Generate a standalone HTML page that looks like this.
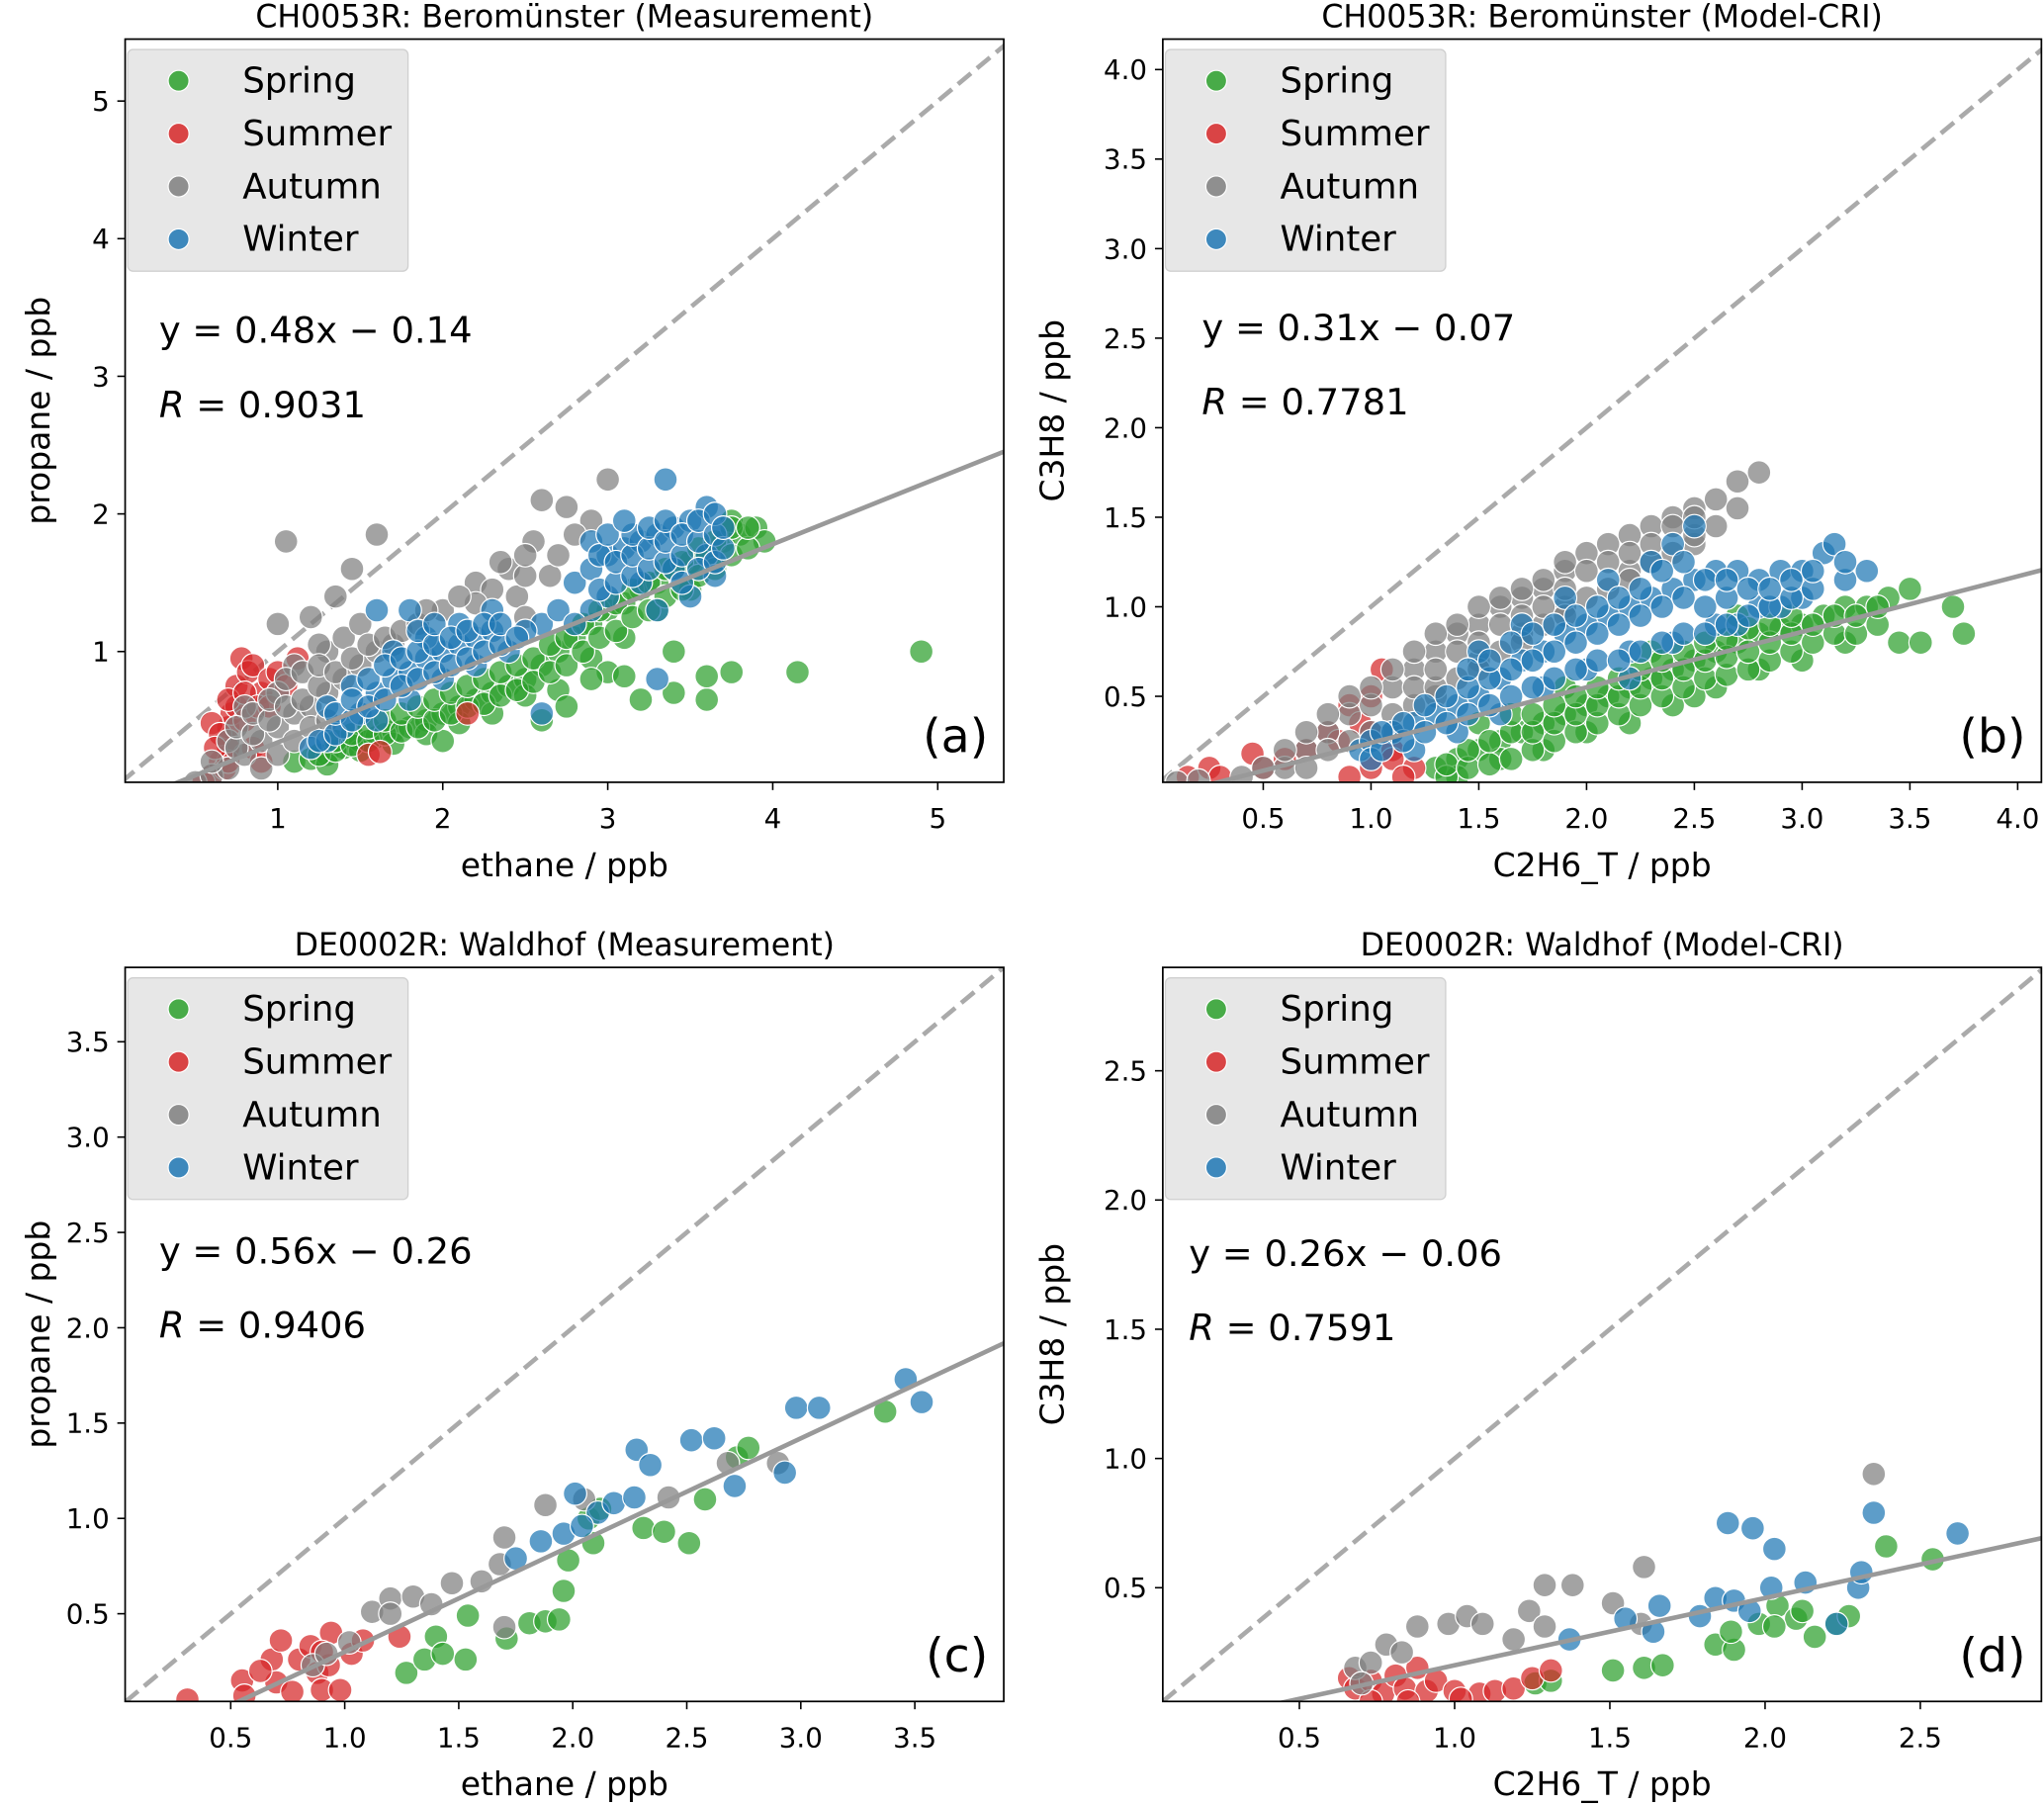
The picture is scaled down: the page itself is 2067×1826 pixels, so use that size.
<!DOCTYPE html>
<html><head><meta charset="utf-8"><style>
html,body{margin:0;padding:0;background:#fff;}
svg{display:block;font-family:"DejaVu Sans","Liberation Sans",sans-serif;}
</style></head><body>
<svg id="fig" width="2067" height="1826" viewBox="0 0 1568 1385.2" preserveAspectRatio="none" xmlns="http://www.w3.org/2000/svg"></svg>
<script>
// ---- Panel (a) data ----
const aGreen=[[1.1,0.2],[1.2,0.22],[1.3,0.25],[1.4,0.3],[1.5,0.35],[1.6,0.38],[1.7,0.42],[1.8,0.45],[1.9,0.5],[2.0,0.55],[2.1,0.6],[2.2,0.65],[2.3,0.7],[2.4,0.75],[2.5,0.8],[2.6,0.9],[2.7,1.0],[2.8,1.1],[2.9,1.2],[3.0,1.3],[3.1,1.35],[3.2,1.45],[3.3,1.5],[3.4,1.6],[3.5,1.65],[3.6,1.7],[3.7,1.8],[3.8,1.85],[3.9,1.9],[3.95,1.8],[3.75,1.95],[1.5,0.28],[1.7,0.33],[1.9,0.4],[2.1,0.48],[2.3,0.55],[2.5,0.68],[2.7,0.72],[2.9,0.95],[3.1,1.1],[3.3,1.3],[3.5,1.45],[2.6,0.5],[2.75,0.6],[3.2,0.65],[3.4,0.7],[3.6,0.65],[3.6,0.82],[3.75,0.85],[4.15,0.85],[4.9,1.0],[3.4,1.0],[3.0,0.85],[3.1,0.82],[2.9,0.8],[2.0,0.35],[1.3,0.18],
[1.25,0.25],[1.35,0.28],[1.35,0.35],[1.45,0.32],[1.45,0.4],[1.55,0.35],[1.55,0.45],[1.65,0.4],[1.65,0.5],[1.75,0.42],[1.75,0.55],[1.85,0.45],[1.85,0.6],[1.95,0.5],[1.95,0.65],[2.05,0.55],[2.05,0.7],[2.15,0.6],[2.15,0.75],[2.25,0.62],[2.25,0.8],[2.35,0.68],[2.35,0.85],[2.45,0.72],[2.45,0.9],[2.55,0.78],[2.55,0.95],[2.65,0.85],[2.65,1.05],[2.75,0.9],[2.75,1.1],[2.85,1.0],[2.85,1.2],[2.95,1.1],[2.95,1.3],[3.05,1.15],[3.05,1.35],[3.15,1.25],[3.15,1.45],[3.25,1.3],[3.25,1.5],[3.35,1.4],[3.35,1.6],[3.45,1.45],[3.45,1.65],[3.55,1.55],[3.55,1.75],[3.65,1.6],[3.65,1.8],[3.75,1.7],[3.75,1.9],[3.85,1.75],[3.85,1.9]];
const aRed=[[0.6,0.1],[0.65,0.2],[0.7,0.3],[0.7,0.45],[0.72,0.55],[0.75,0.75],[0.78,0.95],[0.82,0.85],[0.85,0.9],[0.75,0.6],[0.8,0.5],[0.6,0.48],[0.65,0.4],[0.9,0.7],[0.95,0.8],[1.0,0.85],[1.12,0.95],[0.68,0.15],[0.85,0.3],[0.9,0.2],[1.55,0.25],[1.62,0.27],[2.15,0.55],[0.55,0.05],[0.7,0.65],[0.8,0.7],[0.88,0.6],[0.7,0.2],[0.62,0.3],[0.95,0.6],[1.05,0.75]];
const aGray=[[0.5,0.05],[0.6,0.1],[0.7,0.15],[0.8,0.25],[0.9,0.35],[1.0,0.45],[1.1,0.55],[1.2,0.6],[1.3,0.7],[1.4,0.8],[1.5,0.9],[1.6,1.0],[1.7,1.05],[0.9,0.15],[1.0,0.25],[1.1,0.35],[1.2,0.45],[1.3,0.5],[0.8,0.6],[1.0,0.7],[1.1,0.9],[1.3,1.0],[1.4,1.1],[1.2,1.25],[1.05,1.8],[1.45,1.6],[1.6,1.85],[1.0,1.2],[2.6,2.1],[2.75,2.05],[3.0,2.25],[2.9,1.95],[2.55,1.8],[2.4,1.6],[2.2,1.5],[2.0,1.3],[2.45,1.4],[2.65,1.55],[2.5,1.25],[1.5,1.2],[0.7,0.35],[1.35,1.4],[1.25,1.05],
[0.6,0.2],[0.75,0.3],[0.75,0.45],[0.85,0.4],[0.85,0.55],[0.95,0.5],[0.95,0.65],[1.05,0.6],[1.05,0.8],[1.15,0.65],[1.15,0.85],[1.25,0.75],[1.25,0.9],[1.35,0.85],[1.45,0.95],[1.55,1.05],[1.65,1.1],[1.75,1.15],[1.85,1.2],[2.3,1.45],[2.5,1.55],[2.7,1.7],[2.8,1.85],[2.5,1.7],[2.35,1.65],[2.2,1.35],[1.9,1.3],[2.1,1.4]];
const aBlue=[[1.2,0.3],[1.3,0.35],[1.4,0.45],[1.5,0.55],[1.6,0.7],[1.7,0.8],[1.8,0.85],[1.9,0.95],[2.0,1.0],[2.1,1.05],[2.2,1.1],[2.3,1.15],[1.6,0.5],[1.8,0.65],[2.0,0.8],[2.2,0.9],[1.7,1.0],[1.9,1.1],[2.1,1.2],[1.6,1.3],[1.8,1.3],[2.3,1.3],[2.4,1.0],[2.6,1.2],[2.7,1.3],[2.8,1.5],[2.9,1.6],[3.0,1.7],[3.1,1.75],[3.2,1.8],[3.3,1.85],[3.4,1.9],[3.5,1.95],[3.6,2.05],[3.0,1.4],[3.2,1.5],[3.4,1.6],[3.6,1.7],[3.3,1.3],[3.5,1.4],[3.65,1.55],[2.9,1.3],[2.9,1.8],[3.35,2.25],[2.6,0.55],[3.3,0.8],[2.5,1.15],[2.8,1.2],[1.3,0.6],[1.45,0.75],
[1.25,0.35],[1.35,0.4],[1.35,0.55],[1.45,0.5],[1.45,0.65],[1.55,0.6],[1.55,0.8],[1.65,0.65],[1.65,0.9],[1.75,0.75],[1.75,0.95],[1.85,0.8],[1.85,1.0],[1.85,1.15],[1.95,0.85],[1.95,1.05],[1.95,1.2],[2.05,0.9],[2.05,1.1],[2.15,0.95],[2.15,1.15],[2.25,1.0],[2.25,1.2],[2.35,1.05],[2.35,1.2],[2.45,1.1],[2.95,1.45],[2.95,1.7],[3.05,1.5],[3.05,1.65],[3.15,1.55],[3.15,1.7],[3.15,1.85],[3.25,1.6],[3.25,1.75],[3.25,1.9],[3.35,1.65],[3.35,1.8],[3.35,1.95],[3.45,1.5],[3.45,1.7],[3.45,1.85],[3.55,1.6],[3.55,1.8],[3.55,1.95],[3.65,1.65],[3.65,1.85],[3.65,2.0],[3.7,1.75],[3.7,1.9],[3.0,1.85],[3.1,1.95]];
// ---- Panel (b) data ----
const bGreen=[[1.3,0.1],[1.4,0.15],[1.5,0.2],[1.6,0.25],[1.7,0.3],[1.8,0.35],[1.9,0.4],[2.0,0.45],[2.1,0.5],[2.2,0.55],[2.3,0.6],[2.4,0.65],[2.5,0.7],[2.6,0.75],[2.7,0.8],[2.8,0.85],[2.9,0.88],[3.0,0.9],[3.1,0.95],[3.2,1.0],[3.3,1.0],[3.4,1.05],[3.5,1.1],[1.6,0.15],[1.8,0.2],[2.0,0.3],[2.2,0.35],[2.4,0.45],[2.6,0.55],[2.8,0.65],[3.0,0.7],[3.2,0.8],[1.5,0.35],[1.9,0.55],[2.3,0.75],[2.7,0.95],[3.45,0.8],[3.55,0.8],[3.75,0.85],[3.7,1.0],[1.4,0.05],[2.5,0.5],
[1.35,0.05],[1.35,0.12],[1.45,0.1],[1.45,0.2],[1.55,0.12],[1.55,0.25],[1.65,0.15],[1.65,0.3],[1.65,0.4],[1.75,0.2],[1.75,0.3],[1.75,0.4],[1.85,0.25],[1.85,0.35],[1.85,0.45],[1.95,0.3],[1.95,0.4],[1.95,0.5],[2.05,0.35],[2.05,0.45],[2.05,0.55],[2.15,0.4],[2.15,0.5],[2.15,0.6],[2.25,0.45],[2.25,0.55],[2.25,0.65],[2.35,0.5],[2.35,0.6],[2.35,0.7],[2.45,0.55],[2.45,0.65],[2.45,0.75],[2.55,0.6],[2.55,0.7],[2.55,0.8],[2.65,0.62],[2.65,0.72],[2.65,0.82],[2.75,0.65],[2.75,0.75],[2.75,0.88],[2.85,0.7],[2.85,0.8],[2.85,0.9],[2.95,0.75],[2.95,0.85],[2.95,0.95],[3.05,0.8],[3.05,0.9],[3.15,0.85],[3.15,0.95],[3.25,0.85],[3.25,0.95],[3.35,0.9],[3.35,1.0]];
const bRed=[[0.15,0.05],[0.25,0.1],[0.45,0.18],[0.3,0.05],[0.8,0.3],[0.9,0.45],[1.0,0.5],[1.05,0.65],[1.1,0.2],[1.2,0.1],[1.0,0.1],[0.9,0.05],[0.5,0.1],[0.7,0.2],[0.85,0.25],[0.95,0.35],[1.0,0.3],[1.1,0.15],[1.15,0.05],[0.6,0.15]];
const bGray=[[0.1,0.02],[0.2,0.03],[0.4,0.05],[0.6,0.1],[0.7,0.2],[0.8,0.3],[0.9,0.4],[1.0,0.45],[1.1,0.55],[1.2,0.65],[1.3,0.75],[1.4,0.85],[1.5,0.9],[1.6,1.0],[1.7,1.05],[1.8,1.1],[1.9,1.2],[2.0,1.3],[2.1,1.35],[2.2,1.4],[2.3,1.45],[2.4,1.5],[2.5,1.55],[2.6,1.6],[2.7,1.7],[2.8,1.75],[1.3,0.5],[1.5,0.7],[1.7,0.85],[1.9,1.0],[1.1,0.3],[0.6,0.2],[2.2,1.2],[2.5,1.35],
[0.5,0.1],[0.7,0.1],[0.7,0.3],[0.8,0.2],[0.8,0.4],[0.9,0.25],[0.9,0.5],[1.0,0.3],[1.0,0.55],[1.1,0.4],[1.1,0.65],[1.2,0.45],[1.2,0.55],[1.2,0.75],[1.3,0.55],[1.3,0.65],[1.3,0.85],[1.4,0.6],[1.4,0.75],[1.4,0.9],[1.5,0.65],[1.5,0.8],[1.5,1.0],[1.6,0.75],[1.6,0.9],[1.6,1.05],[1.7,0.8],[1.7,0.95],[1.7,1.1],[1.8,0.9],[1.8,1.0],[1.8,1.15],[1.9,0.95],[1.9,1.1],[1.9,1.25],[2.0,1.05],[2.0,1.2],[2.1,1.1],[2.1,1.25],[2.2,1.15],[2.2,1.3],[2.3,1.25],[2.3,1.35],[2.4,1.3],[2.4,1.45],[2.5,1.4],[2.5,1.5],[2.6,1.45],[2.7,1.55]];
const bBlue=[[0.95,0.2],[1.0,0.25],[1.1,0.3],[1.2,0.35],[1.3,0.4],[1.4,0.45],[1.5,0.5],[1.6,0.6],[1.7,0.7],[1.8,0.75],[1.9,0.85],[2.0,0.9],[2.1,0.95],[2.2,1.0],[2.3,1.05],[2.4,1.1],[2.5,1.15],[2.6,1.2],[2.7,1.2],[2.8,1.15],[2.9,1.2],[3.0,1.2],[3.1,1.3],[3.15,1.35],[3.3,1.2],[1.4,0.3],[1.6,0.4],[1.8,0.55],[2.0,0.65],[2.2,0.75],[2.4,0.8],[2.6,0.9],[2.8,1.0],[3.0,1.05],[1.7,0.9],[1.9,1.05],[2.1,1.15],[2.3,1.25],[2.4,1.35],[2.5,1.45],[1.2,0.2],[1.0,0.15],[2.2,0.6],[1.5,0.75],[2.7,0.9],[2.9,1.0],
[1.05,0.2],[1.05,0.3],[1.15,0.25],[1.15,0.35],[1.25,0.3],[1.25,0.45],[1.35,0.35],[1.35,0.5],[1.45,0.4],[1.45,0.55],[1.45,0.65],[1.55,0.45],[1.55,0.6],[1.55,0.7],[1.65,0.5],[1.65,0.65],[1.65,0.8],[1.75,0.55],[1.75,0.7],[1.75,0.85],[1.85,0.6],[1.85,0.75],[1.85,0.9],[1.95,0.65],[1.95,0.8],[1.95,0.95],[2.05,0.7],[2.05,0.85],[2.05,1.0],[2.15,0.7],[2.15,0.9],[2.15,1.05],[2.25,0.75],[2.25,0.95],[2.25,1.1],[2.35,0.8],[2.35,1.0],[2.35,1.2],[2.45,0.85],[2.45,1.05],[2.45,1.25],[2.55,0.85],[2.55,1.0],[2.55,1.15],[2.65,0.9],[2.65,1.05],[2.65,1.15],[2.75,0.95],[2.75,1.1],[2.85,1.0],[2.85,1.1],[2.95,1.05],[2.95,1.15],[3.05,1.1],[3.05,1.2],[3.2,1.15],[3.2,1.25]];
// ---- Panel (c) data ----
const cGreen=[[1.27,0.19],[1.35,0.26],[1.4,0.38],[1.43,0.29],[1.53,0.26],[1.54,0.49],[1.71,0.37],[1.81,0.45],[1.88,0.46],[1.96,0.62],[1.98,0.78],[2.07,1.0],[2.12,1.05],[2.09,0.87],[2.31,0.95],[2.4,0.93],[2.51,0.87],[2.58,1.1],[2.72,1.32],[2.77,1.37],[3.37,1.56],[1.94,0.47]];
const cRed=[[0.31,0.05],[0.55,0.15],[0.68,0.26],[0.72,0.36],[0.8,0.26],[0.85,0.33],[0.88,0.19],[0.9,0.1],[0.93,0.23],[0.98,0.1],[1.03,0.29],[1.08,0.36],[0.94,0.4],[0.7,0.14],[0.77,0.09],[1.24,0.38],[0.56,0.07],[0.63,0.2],[0.9,0.3]];
const cGray=[[0.86,0.23],[1.02,0.35],[1.12,0.51],[1.2,0.58],[1.3,0.59],[1.38,0.55],[1.47,0.66],[1.6,0.67],[1.68,0.76],[1.7,0.9],[1.88,1.07],[1.7,0.43],[2.05,1.1],[2.42,1.11],[2.68,1.29],[2.9,1.29],[0.92,0.29],[1.2,0.5]];
const cBlue=[[1.75,0.79],[1.86,0.88],[1.96,0.92],[2.01,1.13],[2.11,1.03],[2.18,1.08],[2.27,1.11],[2.28,1.36],[2.34,1.28],[2.52,1.41],[2.62,1.42],[2.71,1.17],[2.93,1.24],[2.98,1.58],[3.08,1.58],[3.46,1.73],[3.53,1.61],[2.04,0.96]];
// ---- Panel (d) data ----
const dGreen=[[1.26,0.13],[1.31,0.14],[1.51,0.18],[1.61,0.19],[1.67,0.2],[1.84,0.28],[1.9,0.26],[1.89,0.33],[1.98,0.36],[2.04,0.43],[2.1,0.38],[2.16,0.31],[2.23,0.36],[2.27,0.39],[2.39,0.66],[2.54,0.61],[2.03,0.35],[2.12,0.41]];
const dRed=[[0.66,0.15],[0.68,0.11],[0.73,0.14],[0.77,0.09],[0.81,0.16],[0.84,0.11],[0.88,0.19],[0.91,0.1],[0.94,0.14],[1.0,0.1],[1.08,0.09],[1.13,0.1],[1.19,0.11],[1.25,0.15],[1.31,0.18],[0.73,0.06],[0.85,0.06],[1.02,0.07]];
const dGray=[[0.68,0.19],[0.73,0.21],[0.78,0.28],[0.83,0.25],[0.88,0.35],[0.98,0.36],[1.04,0.39],[1.09,0.36],[1.19,0.3],[1.24,0.41],[1.29,0.35],[1.29,0.51],[1.38,0.51],[1.51,0.44],[1.61,0.58],[1.6,0.36],[2.35,0.94],[0.7,0.13]];
const dBlue=[[1.37,0.3],[1.55,0.38],[1.64,0.33],[1.66,0.43],[1.79,0.39],[1.84,0.46],[1.88,0.75],[1.96,0.73],[1.9,0.45],[2.02,0.5],[2.03,0.65],[2.13,0.52],[2.3,0.5],[2.31,0.56],[2.35,0.79],[2.62,0.71],[1.95,0.41],[2.23,0.36]];
// ticks
const aXTicks=[1,2,3,4,5], aYTicks=[1,2,3,4,5];
const bXTicks=[0.5,1.0,1.5,2.0,2.5,3.0,3.5,4.0], bYTicks=[0.5,1.0,1.5,2.0,2.5,3.0,3.5,4.0];
const cXTicks=[0.5,1.0,1.5,2.0,2.5,3.0,3.5], cYTicks=[0.5,1.0,1.5,2.0,2.5,3.0,3.5];
const dXTicks=[0.5,1.0,1.5,2.0,2.5], dYTicks=[0.5,1.0,1.5,2.0,2.5];
// fits [slope, intercept]
const aFit=[0.48,-0.14], bFit=[0.31,-0.07], cFit=[0.56,-0.26], dFit=[0.26,-0.06];
const seasons=["Spring","Summer","Autumn","Winter"];
const colors=["#2ca02c","#d62728","#7f7f7f","#1f77b4"];

const NS="http://www.w3.org/2000/svg";
const svg=document.getElementById('fig');
function mk(tag,attrs,parent){const e=document.createElementNS(NS,tag);for(const k in attrs)e.setAttribute(k,attrs[k]);(parent||svg).appendChild(e);return e;}
function txt(s,attrs,parent){const e=mk('text',attrs,parent);e.textContent=s;return e;}

const panels=[
 {id:'a',box:[96,30,770,600],xr:[0.075,5.40],yr:[0.05,5.45],xt:aXTicks,yt:aYTicks,dec:0,data:[aGreen,aRed,aGray,aBlue],fit:aFit,title:"CH0053R: Beromünster (Measurement)",xl:"ethane / ppb",yl:"propane / ppb",eq:"y = 0.48x − 0.14",r:"0.9031",eqx:122,eqy:263},
 {id:'b',box:[892,30,1566,600],xr:[0.034,4.11],yr:[0.02,4.17],xt:bXTicks,yt:bYTicks,dec:1,data:[bGreen,bRed,bGray,bBlue],fit:bFit,title:"CH0053R: Beromünster (Model-CRI)",xl:"C2H6_T / ppb",yl:"C3H8 / ppb",eq:"y = 0.31x − 0.07",r:"0.7781",eqx:922,eqy:261},
 {id:'c',box:[96,742,770,1305],xr:[0.037,3.89],yr:[0.04,3.89],xt:cXTicks,yt:cYTicks,dec:1,data:[cGreen,cRed,cGray,cBlue],fit:cFit,title:"DE0002R: Waldhof (Measurement)",xl:"ethane / ppb",yl:"propane / ppb",eq:"y = 0.56x − 0.26",r:"0.9406",eqx:122,eqy:969},
 {id:'d',box:[892,742,1566,1305],xr:[0.06,2.89],yr:[0.06,2.90],xt:dXTicks,yt:dYTicks,dec:1,data:[dGreen,dRed,dGray,dBlue],fit:dFit,title:"DE0002R: Waldhof (Model-CRI)",xl:"C2H6_T / ppb",yl:"C3H8 / ppb",eq:"y = 0.26x − 0.06",r:"0.7591",eqx:912,eqy:971}
];

panels.forEach(p=>{
 const [x0,y0,x1,y1]=p.box;
 const sx=v=>x0+(v-p.xr[0])/(p.xr[1]-p.xr[0])*(x1-x0);
 const sy=v=>y1-(v-p.yr[0])/(p.yr[1]-p.yr[0])*(y1-y0);
 const g=mk('g',{});
 
 
 const cp=mk('clipPath',{id:'clip'+p.id},g);
 mk('rect',{x:x0,y:y0,width:x1-x0,height:y1-y0},cp);
 const plot=mk('g',{'clip-path':'url(#clip'+p.id+')'},g);
 const lo=Math.min(p.xr[0],p.yr[0]), hi=Math.max(p.xr[1],p.yr[1]);
 const oneline=mk('line',{x1:sx(lo),y1:sy(lo),x2:sx(hi),y2:sy(hi),stroke:'#aaaaaa','stroke-width':3.5,'stroke-dasharray':'13,6'},plot);
 
 
 p.data.forEach((arr,si)=>{
  const sg=mk('g',{},plot);
  
  
  arr.forEach(pt=>{
   const c=mk('circle',{cx:sx(pt[0]),cy:sy(pt[1]),r:9,fill:colors[si],'fill-opacity':0.72,stroke:'#fff','stroke-width':0.9},sg);
   
   
  });
 });
 const fl=mk('line',{x1:sx(p.xr[0]),y1:sy(p.fit[0]*p.xr[0]+p.fit[1]),x2:sx(p.xr[1]),y2:sy(p.fit[0]*p.xr[1]+p.fit[1]),stroke:'#999999','stroke-width':3.5},plot);
 
 
 const fr=mk('rect',{x:x0,y:y0,width:x1-x0,height:y1-y0,fill:'none',stroke:'#000','stroke-width':1.3},g);
 
 
 p.xt.forEach(t=>{
  const X=sx(t);
  mk('line',{x1:X,y1:y1,x2:X,y2:y1+6,stroke:'#000','stroke-width':1.2},g);
  const l=txt(t.toFixed(p.dec),{x:X,y:y1+35,'font-size':21,'text-anchor':'middle',fill:'#000'},g);
  
  
 });
 p.yt.forEach(t=>{
  const Y=sy(t);
  mk('line',{x1:x0-6,y1:Y,x2:x0,y2:Y,stroke:'#000','stroke-width':1.2},g);
  const l=txt(t.toFixed(p.dec),{x:x0-12,y:Y+7.5,'font-size':21,'text-anchor':'end',fill:'#000'},g);
  
  
 });
 const xl=txt(p.xl,{x:(x0+x1)/2,y:y1+72,'font-size':25,'text-anchor':'middle'},g);
 
 
 const yx=(p.id==='a'||p.id==='c')?x0-58:x0-76;
 const yl=txt(p.yl,{x:yx,y:(y0+y1)/2,'font-size':25,'text-anchor':'middle',transform:'rotate(-90 '+yx+' '+((y0+y1)/2)+')'},g);
 
 
 const ti=txt(p.title,{x:(x0+x1)/2,y:y0-9,'font-size':24,'text-anchor':'middle'},g);
 
 
 const lg=mk('g',{},g);
 
 
 mk('rect',{x:x0+2,y:y0+8,width:215,height:170,rx:4,fill:'#e6e6e6','fill-opacity':0.95,stroke:'#d0d0d0','stroke-width':1},lg);
 seasons.forEach((s,i)=>{
  const ey=y0+32+i*40.5;
  const e=mk('g',{},lg);
  
  
  mk('circle',{cx:x0+41,cy:ey,r:8,fill:colors[i],'fill-opacity':0.85,stroke:'#fff','stroke-width':0.9},e);
  txt(s,{x:x0+90,y:ey+9,'font-size':27},e);
 });
 const eq=txt(p.eq,{x:p.eqx,y:p.eqy,'font-size':28},g);
 
 
 const rt=mk('text',{x:p.eqx,y:p.eqy+57,'font-size':28},g);
 
 
 const it=mk('tspan',{'font-style':'italic'},rt);it.textContent='R';
 const t2=mk('tspan',{},rt);t2.textContent=' = '+p.r;
 const pl=txt('('+p.id+')',{x:x1-12,y:y1-23,'font-size':36,'text-anchor':'end'},g);
 
 
});
</script>
</body></html>
